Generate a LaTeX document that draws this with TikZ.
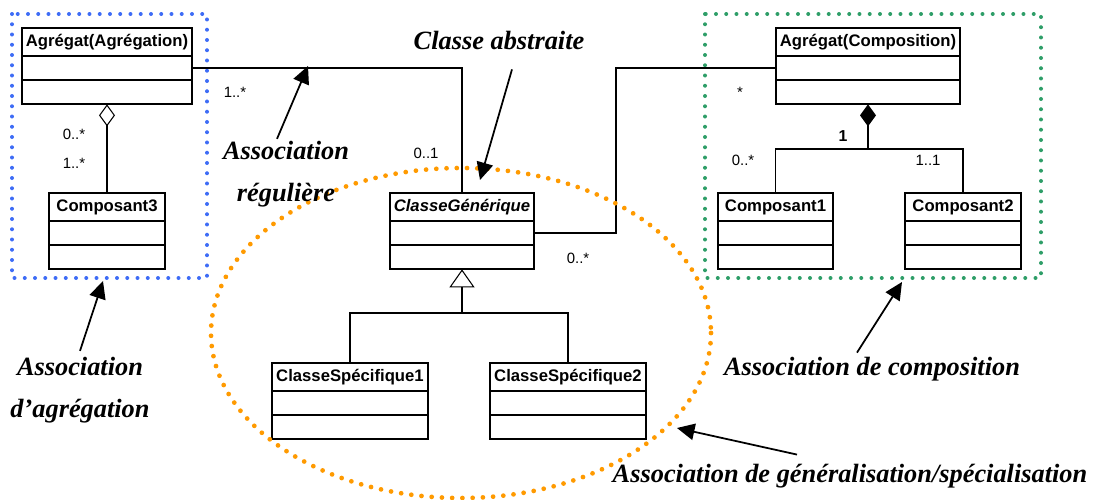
\documentclass[tikz,border=0pt]{standalone}
\usepackage{fontspec}
\setmainfont{Liberation Serif}
\setsansfont{Liberation Sans}
\usepackage{tikz}
\usetikzlibrary{arrows.meta,positioning,fit}
\definecolor{aggblue}{HTML}{3E6CF6}
\definecolor{compgreen}{HTML}{2E9E68}
\definecolor{genorange}{HTML}{FF9A00}

\newcommand{\classfont}{\fontsize{9.5}{11}\selectfont\sffamily\bfseries}
% class box: name, top-left corner, width, title
\newcommand{\umlclass}[5][]{%
    \node[classhead, minimum width=#4, font=\classfont#1, anchor=north west] (#2-h) at #3 {#5};
    \node[classpart, minimum width=#4, anchor=north] (#2-a) at (#2-h.south) {};
    \node[classpart, minimum width=#4, anchor=north] (#2-b) at (#2-a.south) {};
    \node[fit=(#2-h)(#2-b), inner sep=0pt] (#2) {};
}

\begin{document}
\begin{tikzpicture}[x=0.2mm, y=-0.2mm,
    classhead/.style={draw, line width=1pt, fill=white, outer sep=0pt, inner sep=0pt, minimum height=5.6mm},
    classpart/.style={classhead, minimum height=4.8mm},
    assoc/.style={line width=0.6pt},
    mult/.style={font=\fontsize{8.5}{10}\selectfont\sffamily, inner sep=0pt, anchor=base},
    note/.style={font=\fontsize{15}{24}\selectfont\bfseries\itshape, align=center, inner sep=1pt},
    pointer/.style={line width=1pt, -{Triangle[length=3.5mm, width=3.3mm]}},
    dotframe/.style={line width=0.8mm, line cap=round, dash pattern=on 0pt off 2.05mm}]

\useasboundingbox (0,0) rectangle (1099,500);

% ---- Dotted groups ----
\draw[dotframe, aggblue] (12,14) rectangle (207,278);
\draw[dotframe, compgreen] (705,14) rectangle (1041,278);

% ---- Classes ----
\umlclass{agg}{(22,28)}{170*0.2mm}{Agrégat(Agrégation)}
\umlclass{comp3}{(49,193)}{116*0.2mm}{Composant3}
\umlclass{agc}{(776,28)}{184*0.2mm}{Agrégat(Composition)}
\umlclass{c1}{(718,193)}{115*0.2mm}{Composant1}
\umlclass{c2}{(905,193)}{116*0.2mm}{Composant2}
\umlclass[\itshape]{gen}{(390,193)}{144*0.2mm}{ClasseGénérique}
\umlclass{s1}{(272,363)}{156*0.2mm}{ClasseSpécifique1}
\umlclass{s2}{(490,363)}{156*0.2mm}{ClasseSpécifique2}

% ---- Aggregation ----
\draw[assoc, {Diamond[open, length=4.4mm, width=3.2mm]}-] (agg.south) -- (comp3.north);
\node[mult] (m1) at (74,139) {0..*};
\node[mult] (m2) at (74,168) {1..*};

% ---- Composition ----
\coordinate (compjoint) at (868,149);
\draw[assoc, {Diamond[length=4.4mm, width=3.2mm]}-] (agc.south) -- (compjoint);
\draw[assoc] (c1.north) |- (compjoint) -| (c2.north);
\node[mult, font=\fontsize{9}{10}\selectfont\sffamily\bfseries] (m3) at (843,141) {1};
\node[mult] (m4) at (743,165) {0..*};
\node[mult] (m5) at (928,165) {1..1};

% ---- Generalisation ----
\coordinate (genjoint) at (462,313);
\draw[assoc, {Triangle[open, length=3.6mm, width=5mm]}-] (gen.south) -- (genjoint);
\draw[assoc] (s1.north) |- (genjoint) -| (s2.north);

% ---- Plain associations ----
\draw[assoc] (agg-a.east) -| (gen.north);
\node[mult] (m6) at (235,97) {1..*};
\node[mult] (m7) at (426,158) {0..1};

\coordinate (assocbend) at (616,150);
\draw[assoc] (gen-a.east) -| (assocbend) |- (agc-a.west);
\node[mult] (m8) at (740,97) {*};
\node[mult] (m9) at (578,263) {0..*};

% ---- Specialisation group ----
\draw[dotframe, genorange, line width=0.95mm] (461,333) ellipse [x radius=250, y radius=165];

% ---- Notes ----
\node[note] (reglbl) at (286,174) {Association\\régulière};
\node[note, anchor=base] (abslbl) at (499,50) {Classe abstraite};
\node[note] (agglbl) at (80,390) {Association\\d'agrégation};
\node[note, anchor=base] (complbl) at (872,375) {Association de composition};
\node[note, anchor=base] (genlbl) at (850,482) {Association de généralisation/spécialisation};

\coordinate (regtip) at (308,66);
\coordinate (abstip) at (480,180);
\coordinate (aggtip) at (103,281);
\coordinate (comptip) at (902,282);
\coordinate (gentip) at (677,428);

\draw[pointer] ([shift={(-9,0)}]reglbl.north) -- (regtip);
\draw[pointer] ([shift={(13,17)}]abslbl.south) -- (abstip);
\draw[pointer] ([shift={(0,-4)}]agglbl.north) -- (aggtip);
\draw[pointer] ([shift={(-15,-2)}]complbl.north) -- (comptip);
\draw[pointer] ([shift={(-53,-7)}]genlbl.north) -- (gentip);

\end{tikzpicture}
\end{document}
